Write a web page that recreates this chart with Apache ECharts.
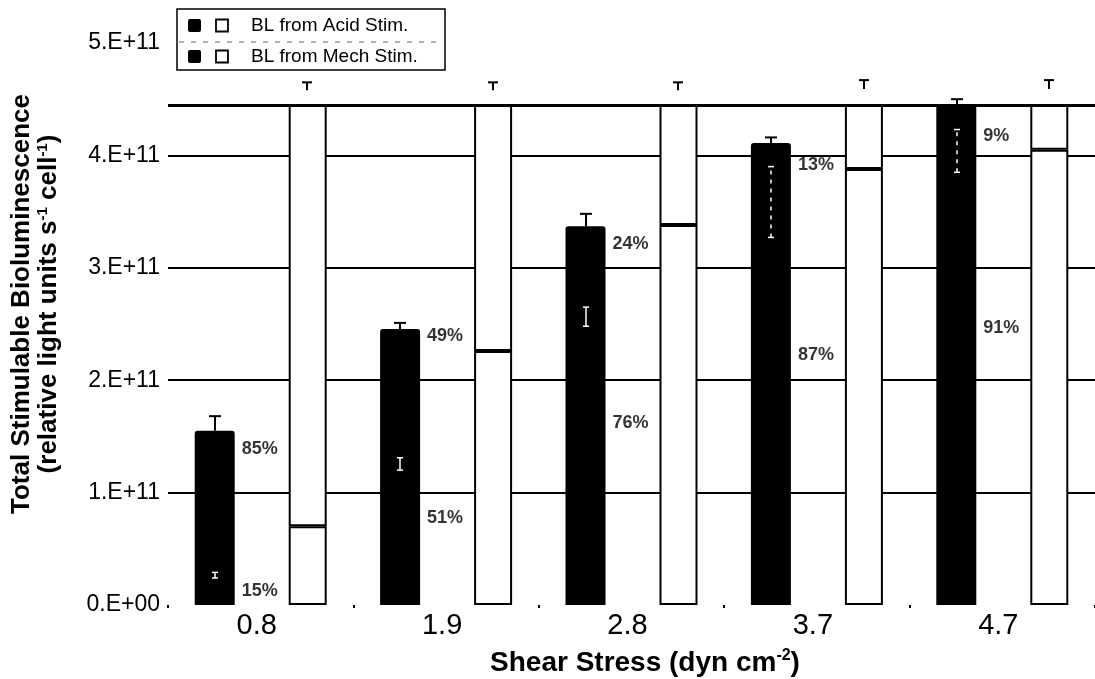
<!DOCTYPE html>
<html><head><meta charset="utf-8">
<script src="https://cdn.jsdelivr.net/npm/echarts@6/dist/echarts.min.js"></script>
<style>html,body{margin:0;padding:0;background:#fff}#c{width:1095px;height:679px}</style>
</head><body><div id="c"></div>
<script>
// ---- data (values in units of 1e11 relative light units s^-1 cell^-1) ----
const categories = ['0.8', '1.9', '2.8', '3.7', '4.7'];
const legendLabels = ['BL from Acid Stim.', 'BL from Mech Stim.'];
const blackTotal = [1.55, 2.455, 3.37, 4.11, 4.45];
const lowerPct = [15, 51, 76, 87, 91];
const upperPct = [85, 49, 24, 13, 9];
const blackErrTop = [1.68, 2.51, 3.48, 4.16, 4.50];
const innerErrLow = [0.24, 1.20, 2.48, 3.27, 3.85];
const innerErrHigh = [0.29, 1.31, 2.65, 3.90, 4.23];
const whiteLower = [0.70, 2.26, 3.38, 3.88, 4.05];
const whiteTop = [4.45, 4.45, 4.45, 4.45, 4.45];
const whiteErrLow = [4.58, 4.58, 4.58, 4.59, 4.59];
const whiteErrHigh = [4.65, 4.65, 4.65, 4.67, 4.67];
const capLevel = 4.45;
const pctUpperY = [1.39, 2.39, 3.21, 3.91, 4.17];
const pctLowerY = [0.12, 0.77, 1.62, 2.22, 2.46];
const yTickLabels = ['0.E+00', '1.E+11', '2.E+11', '3.E+11', '4.E+11', '5.E+11'];
const SCALE = 1e11;

// ---- derived series data ----
// black bars: both stacked parts are solid black, so the total is drawn as one bar
const blackTotalData = blackTotal.map(t => t * SCALE);
const whiteLowerData = whiteLower.map(v => v * SCALE);
const whiteUpperData = whiteTop.map((t, i) => (t - whiteLower[i]) * SCALE);

const errData = [];
categories.forEach((c, i) => {
  errData.push([i, blackTotal[i] * SCALE, blackErrTop[i] * SCALE, 0]);
  errData.push([i, innerErrLow[i] * SCALE, innerErrHigh[i] * SCALE, 1]);
  errData.push([i, whiteErrLow[i] * SCALE, whiteErrHigh[i] * SCALE, 2]);
});
const pctData = [];
categories.forEach((c, i) => {
  pctData.push({ value: [i, pctUpperY[i] * SCALE], t: upperPct[i] + '%' });
  pctData.push({ value: [i, pctLowerY[i] * SCALE], t: lowerPct[i] + '%' });
});

const FONT = '"Liberation Sans", Arial, sans-serif';
const chart = echarts.init(document.getElementById('c'), null, { renderer: 'canvas' });

const barBase = { type: 'bar', barGap: '135%', barCategoryGap: '20%', silent: true, animation: false };

chart.setOption({
  animation: false,
  backgroundColor: '#fff',
  grid: { left: 168, right: -6, top: 43, bottom: 74 },
  xAxis: {
    type: 'category',
    data: categories,
    axisLine: { show: false },
    axisTick: { show: true, length: 3, lineStyle: { color: '#000', width: 2 } },
    axisLabel: { color: '#000', fontFamily: FONT, fontSize: 29, margin: 6, padding: [0, 8, 0, 0] },
    splitLine: { show: false }
  },
  yAxis: {
    type: 'value',
    min: 0, max: 5 * SCALE, interval: SCALE,
    axisLine: { show: false },
    axisTick: { show: false },
    axisLabel: {
      color: '#000', fontFamily: FONT, fontSize: 23, margin: 8,
      formatter: v => yTickLabels[Math.round(v / SCALE)]
    },
    splitLine: { show: true, showMinLine: false, showMaxLine: false, lineStyle: { color: '#000', width: 2 } }
  },
  series: [
    Object.assign({}, barBase, {
      name: legendLabels[0] + ' / ' + legendLabels[1], stack: 'k', barWidth: 40, data: blackTotalData,
      itemStyle: { color: '#000', borderColor: '#000', borderWidth: 0, borderRadius: [3, 3, 0, 0] }
    }),
    Object.assign({}, barBase, {
      name: legendLabels[0] + ' ', stack: 'w', barWidth: 38, data: whiteLowerData,
      itemStyle: { color: '#fff', borderColor: '#000', borderWidth: 2 }
    }),
    Object.assign({}, barBase, {
      name: legendLabels[1] + ' ', stack: 'w', barWidth: 38, data: whiteUpperData,
      itemStyle: { color: '#fff', borderColor: '#000', borderWidth: 2 },
      markLine: {
        silent: true, symbol: 'none', animation: false,
        label: { show: false },
        lineStyle: { color: '#000', width: 3, type: 'solid' },
        data: [{ yAxis: capLevel * SCALE }]
      }
    }),
    {
      type: 'custom', name: 'err', silent: true, z: 5,
      data: errData,
      encode: { x: 0, y: [1, 2] },
      renderItem: function (params, api) {
        const i = api.value(0), lo = api.value(1), hi = api.value(2), kind = api.value(3);
        const bw = api.size([1, 0])[0];
        const off = kind === 2 ? bw * 0.252 : -bw * 0.2465;
        const pLo = api.coord([i, lo]), pHi = api.coord([i, hi]);
        const x = Math.round(pLo[0] + off);
        const color = kind === 1 ? '#fff' : '#000';
        const capW = kind === 0 ? 6 : (kind === 1 ? 3 : 5);
        const lw = kind === 1 ? 1.5 : 2;
        const dash = (kind === 1 && (pLo[1] - pHi[1]) > 20) ? [4, 5] : null;
        const children = [
          { type: 'line', shape: { x1: x, y1: pLo[1], x2: x, y2: pHi[1] }, style: { stroke: color, lineWidth: lw, lineDash: dash } },
          { type: 'line', shape: { x1: x - capW, y1: pHi[1], x2: x + capW, y2: pHi[1] }, style: { stroke: color, lineWidth: lw } }
        ];
        if (kind === 1) {
          children.push({ type: 'line', shape: { x1: x - capW, y1: pLo[1], x2: x + capW, y2: pLo[1] }, style: { stroke: color, lineWidth: lw } });
        }
        return { type: 'group', children: children };
      }
    },
    {
      type: 'scatter', name: 'pct', silent: true, symbolSize: 0, z: 6,
      data: pctData,
      label: {
        show: true, position: 'right', distance: 0, offset: [-19, 0],
        color: '#000', fontFamily: FONT, fontWeight: 'bold', fontSize: 18,
        textBorderWidth: 0,
        formatter: p => p.data.t
      }
    }
  ],
  graphic: [
    // legend box
    { type: 'rect', shape: { x: 177, y: 9, width: 268, height: 61 }, style: { fill: '#fff', stroke: '#000', lineWidth: 1.5 }, z: 10 },
    { type: 'line', shape: { x1: 179, y1: 42, x2: 443, y2: 42 }, style: { stroke: '#666', lineWidth: 1, lineDash: [5, 7] }, z: 11 },
    { type: 'rect', shape: { x: 188, y: 19, width: 13, height: 13, r: 2 }, style: { fill: '#000' }, z: 11 },
    { type: 'rect', shape: { x: 216, y: 19.5, width: 12, height: 12 }, style: { fill: '#fff', stroke: '#000', lineWidth: 1.8 }, z: 11 },
    { type: 'text', x: 251, y: 26, style: { text: legendLabels[0], fill: '#000', font: '19px ' + FONT, verticalAlign: 'middle' }, z: 11 },
    { type: 'rect', shape: { x: 188, y: 50, width: 13, height: 13, r: 2 }, style: { fill: '#000' }, z: 11 },
    { type: 'rect', shape: { x: 216, y: 50.5, width: 12, height: 12 }, style: { fill: '#fff', stroke: '#000', lineWidth: 1.8 }, z: 11 },
    { type: 'text', x: 251, y: 57, style: { text: legendLabels[1], fill: '#000', font: '19px ' + FONT, verticalAlign: 'middle' }, z: 11 },
    // y-axis title
    {
      type: 'text', x: 35, y: 304, rotation: Math.PI / 2, z: 11,
      style: {
        text: '{a|Total Stimulable Bioluminescence}\n{a|(relative light units s}{s|-1}{a| cell}{s|-1}{a|)}',
        align: 'center', verticalAlign: 'middle', fill: '#000',
        rich: {
          a: { fontFamily: FONT, fontWeight: 'bold', fontSize: 26, lineHeight: 27, fill: '#000' },
          s: { fontFamily: FONT, fontWeight: 'bold', fontSize: 15, lineHeight: 14, verticalAlign: 'top', fill: '#000' }
        }
      }
    },
    // x-axis title
    {
      type: 'text', x: 645, y: 663, z: 11,
      style: {
        text: '{a|Shear Stress (dyn cm}{s|-2}{a|)}',
        align: 'center', verticalAlign: 'middle', fill: '#000',
        rich: {
          a: { fontFamily: FONT, fontWeight: 'bold', fontSize: 28, lineHeight: 30, fill: '#000' },
          s: { fontFamily: FONT, fontWeight: 'bold', fontSize: 16, lineHeight: 14, verticalAlign: 'top', fill: '#000' }
        }
      }
    }
  ]
});
</script>
</body></html>
